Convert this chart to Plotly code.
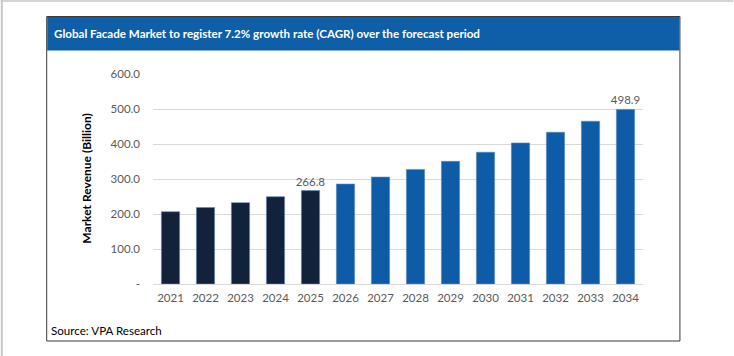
import plotly.graph_objects as go

years = ["2021", "2022", "2023", "2024", "2025", "2026", "2027",
         "2028", "2029", "2030", "2031", "2032", "2033", "2034"]
revenue = [206.5, 218.5, 232.5, 249.5, 266.8, 285.5, 305.5,
           327.5, 350.5, 376.5, 403.0, 433.5, 465.0, 498.9]
labelled_years = ["2025", "2034"]
ytick_vals = [0, 100, 200, 300, 400, 500, 600]
ytick_text = ["-", "100.0", "200.0", "300.0", "400.0", "500.0", "600.0"]

title_text = "Global Facade Market to register 7.2% growth rate (CAGR) over the forecast period"
source_text = "Source: VPA Research"
axis_title = "Market Revenue (Billion)"

W, H = 734, 356
L, R, T, B = 152.5, 90.5, 74, 72
PW, PH = W - L - R, H - T - B

def px(x):
    return (x - L) / PW

def py(y):
    return (H - B - y) / PH

HIST = "#13223b"
FCST = "#0e5ca8"
colors = [HIST if int(y) <= 2025 else FCST for y in years]
texts = [f"{v:.1f}" if y in labelled_years else "" for y, v in zip(years, revenue)]

FONT = "Lato"

fig = go.Figure(go.Bar(
    x=years, y=revenue,
    marker=dict(color=colors, line=dict(color="#5b86c0", width=0.6)),
    text=texts, textposition="outside", cliponaxis=False, constraintext="none",
    textfont=dict(family=FONT, size=11.5, color="#595959"),
    width=0.52,
))

shapes = [
    # outer sheet edges
    dict(type="rect", xref="paper", yref="paper", x0=px(0), x1=px(W), y0=py(2), y1=py(0),
         fillcolor="#d4d4d4", line=dict(width=0), layer="below"),
    dict(type="rect", xref="paper", yref="paper", x0=px(0), x1=px(2), y0=py(H), y1=py(0),
         fillcolor="#c8c8c8", line=dict(width=0), layer="below"),
    # chart box
    dict(type="rect", xref="paper", yref="paper", x0=px(46), x1=px(680.5), y0=py(341), y1=py(16.5),
         fillcolor="rgba(0,0,0,0)", line=dict(color="#3a3a3a", width=1), layer="above"),
    # title bar
    dict(type="rect", xref="paper", yref="paper", x0=px(46.5), x1=px(680), y0=py(50.5), y1=py(17),
         fillcolor="#0f5ea8", line=dict(width=0), layer="below"),
]

annotations = [
    dict(text=f"<b>{title_text}</b>", xref="paper", yref="paper", x=px(51), y=py(33.5),
         xanchor="left", yanchor="middle", showarrow=False,
         font=dict(family=FONT, size=11.6, color="white")),
    dict(text=source_text, xref="paper", yref="paper", x=px(48.5), y=py(330),
         xanchor="left", yanchor="middle", showarrow=False,
         font=dict(family=FONT, size=11.6, color="#000000")),
    dict(text=f"<b>{axis_title}</b>", xref="paper", yref="paper", x=px(85), y=py(179),
         xanchor="center", yanchor="middle", showarrow=False, textangle=-90,
         font=dict(family=FONT, size=12, color="#000000")),
]

fig.update_layout(
    width=W, height=H,
    margin=dict(l=L, r=R, t=T, b=B, pad=0),
    paper_bgcolor="white", plot_bgcolor="white",
    showlegend=False,
    shapes=shapes, annotations=annotations,
    xaxis=dict(type="category", showgrid=False, showline=False, ticks="",
               tickfont=dict(family=FONT, size=11.5, color="#595959"), ticklabelstandoff=5),
    yaxis=dict(range=[0, 600], tickvals=ytick_vals, ticktext=ytick_text,
               showgrid=True, gridcolor="#d9d9d9", gridwidth=1,
               zeroline=True, zerolinecolor="#d9d9d9", zerolinewidth=1,
               showline=False, ticks="",
               tickfont=dict(family=FONT, size=11.5, color="#595959"), ticklabelstandoff=12),
    font=dict(family=FONT),
)

fig.write_html("out.html", config={"displayModeBar": False},
               post_script="document.body.style.margin='0';")
